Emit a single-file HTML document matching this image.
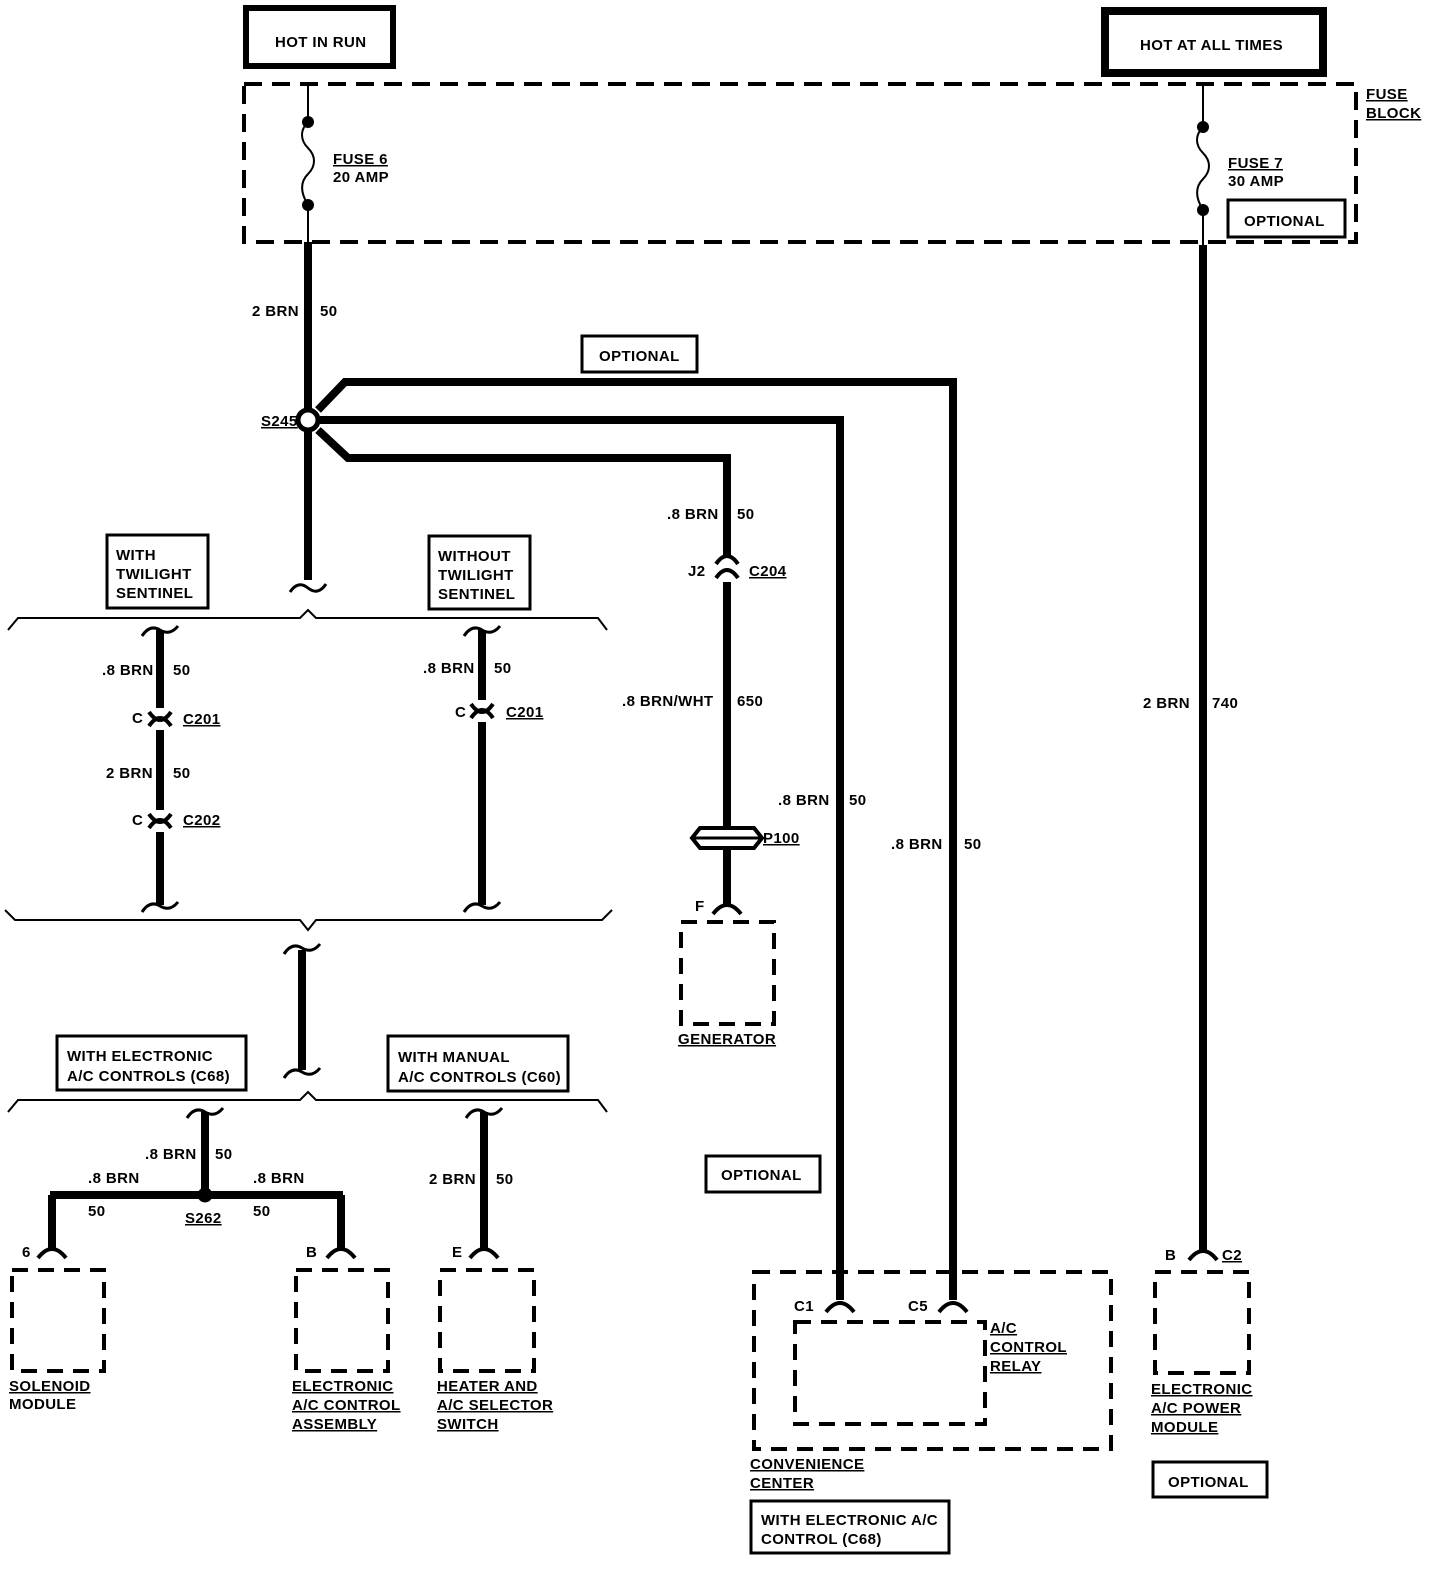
<!DOCTYPE html>
<html><head><meta charset="utf-8"><style>
html,body{margin:0;padding:0;background:#fff;}
svg{display:block;}
text{font-family:"Liberation Sans",sans-serif;font-weight:bold;font-size:15px;letter-spacing:0.4px;fill:#000;}
</style></head><body>
<svg width="1456" height="1584" viewBox="0 0 1456 1584" xmlns="http://www.w3.org/2000/svg">
<g fill="none" stroke="#000">
<rect x="246" y="8" width="147" height="58" stroke-width="6"/>
<rect x="1105" y="11" width="218" height="62" stroke-width="8"/>
<rect x="244" y="84" width="1112" height="158" stroke-width="4" stroke-dasharray="18,10"/>
<path d="M308 84 V122 M308 205 V242" stroke-width="2"/>
<path d="M308 122 C300 130,300 140,308 148 C316 156,316 166,308 174 C300 182,300 192,308 205" stroke-width="2"/>
<path d="M1203 86 V127 M1203 210 V245" stroke-width="2"/>
<path d="M1203 127 C1195 135,1195 145,1203 153 C1211 161,1211 171,1203 179 C1195 187,1195 197,1203 210" stroke-width="2"/>
<rect x="1228" y="200" width="117" height="37" stroke-width="3"/>
<rect x="582" y="336" width="115" height="36" stroke-width="3"/>
<g stroke-width="8">
<path d="M308 242 V580"/>
<path d="M318 410 L345 382 H953 V1300"/>
<path d="M320 420 H840 V1300"/>
<path d="M318 430 L348 458 H727 V558"/>
<path d="M727 582 V828 M727 850 V905"/>
<path d="M1203 245 V1250"/>
<path d="M160 630 V708 M160 730 V810 M160 832 V905"/>
<path d="M482 630 V700 M482 722 V905"/>
<path d="M302 950 V1070"/>
<path d="M205 1112 V1195 M50 1195 H343 M52 1195 V1248 M341 1195 V1248"/>
<path d="M484 1112 V1248"/>
</g>
<circle cx="308" cy="420" r="10" fill="#fff" stroke-width="5"/>
<circle cx="205" cy="1195" r="7" fill="#000" stroke-width="1"/>
<g fill="#000" stroke="none">
<circle cx="308" cy="122" r="6"/><circle cx="308" cy="205" r="6"/>
<circle cx="1203" cy="127" r="6"/><circle cx="1203" cy="210" r="6"/>
</g>
<g stroke-width="3">
<path d="M290 592 Q298 580 308 588 Q318 596 326 584"/>
<path d="M142 636 Q150 624 160 630 Q170 636 178 626"/>
<path d="M142 912 Q150 900 160 906 Q170 912 178 902"/>
<path d="M464 636 Q472 624 482 630 Q492 636 500 626"/>
<path d="M464 912 Q472 900 482 906 Q492 912 500 902"/>
<path d="M284 954 Q292 942 302 948 Q312 954 320 944"/>
<path d="M284 1078 Q292 1066 302 1072 Q312 1078 320 1068"/>
<path d="M187 1118 Q195 1106 205 1112 Q215 1118 223 1108"/>
<path d="M466 1118 Q474 1106 484 1112 Q494 1118 502 1108"/>
</g>
<g stroke-width="2">
<path d="M8 630 L18 618 H300 L308 610 L316 618 H598 L607 630"/>
<path d="M5 910 L15 920 H300 L308 930 L316 920 H602 L612 910"/>
<path d="M8 1112 L18 1100 H300 L308 1092 L316 1100 H598 L607 1112"/>
</g>
<g stroke-width="4">
<path d="M149 712 Q160 728 171 712 M149 726 Q160 710 171 726"/>
<path d="M149 814 Q160 830 171 814 M149 828 Q160 812 171 828"/>
<path d="M471 704 Q482 720 493 704 M471 718 Q482 702 493 718"/>
<path d="M716 564 Q727 548 738 564 M716 578 Q727 562 738 578"/>
</g>
<path d="M700 828 H754 L762 838 L754 848 H700 L692 838 Z" stroke-width="4"/>
<path d="M692 838 H762" stroke-width="3"/>
<g stroke-width="4">
<path d="M713 914 Q727 896 741 914"/>
<path d="M38 1258 Q52 1240 66 1258"/>
<path d="M327 1258 Q341 1240 355 1258"/>
<path d="M470 1258 Q484 1240 498 1258"/>
<path d="M826 1312 Q840 1294 854 1312"/>
<path d="M939 1312 Q953 1294 967 1312"/>
<path d="M1189 1260 Q1203 1242 1217 1260"/>
</g>
<g stroke-width="4" stroke-dasharray="16,10">
<rect x="681" y="922" width="93" height="102"/>
<rect x="12" y="1270" width="92" height="101"/>
<rect x="296" y="1270" width="92" height="101"/>
<rect x="440" y="1270" width="94" height="101"/>
<rect x="754" y="1272" width="357" height="177"/>
<rect x="795" y="1322" width="190" height="102"/>
<rect x="1155" y="1272" width="94" height="101"/>
</g>
<g stroke-width="3">
<rect x="107" y="535" width="101" height="73"/>
<rect x="429" y="536" width="101" height="73"/>
<rect x="57" y="1036" width="189" height="54"/>
<rect x="388" y="1036" width="180" height="55"/>
<rect x="706" y="1156" width="114" height="36"/>
<rect x="751" y="1501" width="198" height="52"/>
<rect x="1153" y="1462" width="114" height="35"/>
</g>
</g>
<g>
<text x="275" y="47">HOT IN RUN</text>
<text x="1140" y="50">HOT AT ALL TIMES</text>
<text x="1366" y="99" text-decoration="underline">FUSE</text>
<text x="1366" y="118" text-decoration="underline">BLOCK</text>
<text x="333" y="164" text-decoration="underline">FUSE 6</text>
<text x="333" y="182">20 AMP</text>
<text x="1228" y="168" text-decoration="underline">FUSE 7</text>
<text x="1228" y="186">30 AMP</text>
<text x="1244" y="226">OPTIONAL</text>
<text x="252" y="316">2 BRN</text><text x="320" y="316">50</text>
<text x="599" y="361">OPTIONAL</text>
<text x="261" y="426" text-decoration="underline">S245</text>
<text x="667" y="519">.8 BRN</text><text x="737" y="519">50</text>
<text x="688" y="576">J2</text><text x="749" y="576" text-decoration="underline">C204</text>
<text x="622" y="706">.8 BRN/WHT</text><text x="737" y="706">650</text>
<text x="778" y="805">.8 BRN</text><text x="849" y="805">50</text>
<text x="891" y="849">.8 BRN</text><text x="964" y="849">50</text>
<text x="763" y="843" text-decoration="underline">P100</text>
<text x="695" y="911">F</text>
<text x="678" y="1044" text-decoration="underline">GENERATOR</text>
<text x="1143" y="708">2 BRN</text><text x="1212" y="708">740</text>
<text x="116" y="560">WITH</text><text x="116" y="579">TWILIGHT</text><text x="116" y="598">SENTINEL</text>
<text x="438" y="561">WITHOUT</text><text x="438" y="580">TWILIGHT</text><text x="438" y="599">SENTINEL</text>
<text x="102" y="675">.8 BRN</text><text x="173" y="675">50</text>
<text x="132" y="723">C</text><text x="183" y="724" text-decoration="underline">C201</text>
<text x="106" y="778">2 BRN</text><text x="173" y="778">50</text>
<text x="132" y="825">C</text><text x="183" y="825" text-decoration="underline">C202</text>
<text x="423" y="673">.8 BRN</text><text x="494" y="673">50</text>
<text x="455" y="717">C</text><text x="506" y="717" text-decoration="underline">C201</text>
<text x="67" y="1061">WITH ELECTRONIC</text><text x="67" y="1081">A/C CONTROLS (C68)</text>
<text x="398" y="1062">WITH MANUAL</text><text x="398" y="1082">A/C CONTROLS (C60)</text>
<text x="145" y="1159">.8 BRN</text><text x="215" y="1159">50</text>
<text x="88" y="1183">.8 BRN</text><text x="88" y="1216">50</text>
<text x="253" y="1183">.8 BRN</text><text x="253" y="1216">50</text>
<text x="185" y="1223" text-decoration="underline">S262</text>
<text x="429" y="1184">2 BRN</text><text x="496" y="1184">50</text>
<text x="22" y="1257">6</text><text x="306" y="1257">B</text><text x="452" y="1257">E</text>
<text x="721" y="1180">OPTIONAL</text>
<text x="9" y="1391" text-decoration="underline">SOLENOID</text><text x="9" y="1409">MODULE</text>
<text x="292" y="1391" text-decoration="underline">ELECTRONIC</text><text x="292" y="1410" text-decoration="underline">A/C CONTROL</text><text x="292" y="1429" text-decoration="underline">ASSEMBLY</text>
<text x="437" y="1391" text-decoration="underline">HEATER AND</text><text x="437" y="1410" text-decoration="underline">A/C SELECTOR</text><text x="437" y="1429" text-decoration="underline">SWITCH</text>
<text x="794" y="1311">C1</text><text x="908" y="1311">C5</text>
<text x="990" y="1333" text-decoration="underline">A/C</text><text x="990" y="1352" text-decoration="underline">CONTROL</text><text x="990" y="1371" text-decoration="underline">RELAY</text>
<text x="750" y="1469" text-decoration="underline">CONVENIENCE</text><text x="750" y="1488" text-decoration="underline">CENTER</text>
<text x="761" y="1525">WITH ELECTRONIC A/C</text><text x="761" y="1544">CONTROL (C68)</text>
<text x="1165" y="1260">B</text><text x="1222" y="1260" text-decoration="underline">C2</text>
<text x="1151" y="1394" text-decoration="underline">ELECTRONIC</text><text x="1151" y="1413" text-decoration="underline">A/C POWER</text><text x="1151" y="1432" text-decoration="underline">MODULE</text>
<text x="1168" y="1487">OPTIONAL</text>
</g>
</svg>
</body></html>
